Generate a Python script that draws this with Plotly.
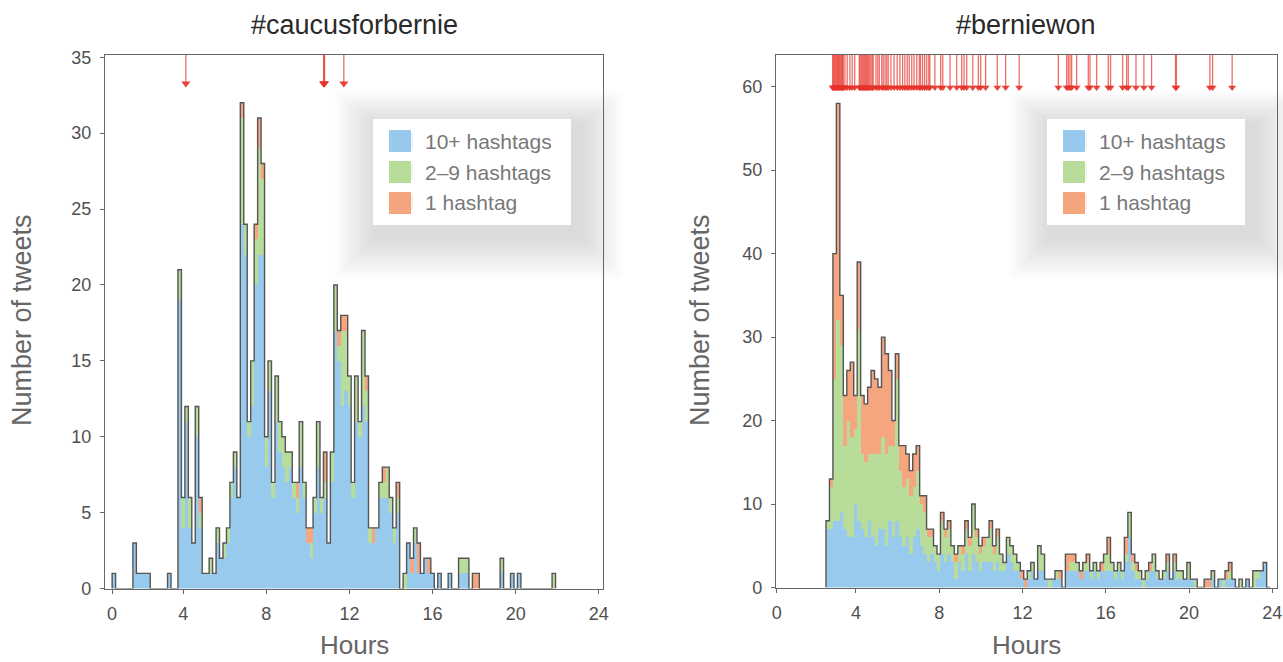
import plotly.graph_objects as go

# ---------------- data ----------------
BIN_W = 1 / 6  # 10-minute bins, in hours
SERIES = ["10+ hashtags", "2–9 hashtags", "1 hashtag"]
COLORS = ["#98CAEE", "#B8DC99", "#F5A67F"]

# #caucusforbernie : counts per 10-min bin, first bin starts at L_START hours
L_START = 3.5 / 6
L_BLUE = [1, 0, 0, 0, 0, 0, 3, 1, 1, 1,
          1, 0, 0, 0, 0, 0, 1, 0, 0, 19,
          4, 11, 4, 3, 10, 4, 1, 1, 1, 1,
          3, 2, 2, 3, 6, 8, 6, 24, 22, 10,
          12, 20, 22, 22, 8, 13, 6, 11, 9, 8,
          7, 8, 6, 5, 8, 6, 3, 2, 5, 8,
          5, 6, 3, 7, 17, 15, 12, 13, 12, 6,
          11, 10, 12, 11, 3, 3, 4, 6, 6, 6,
          5, 3, 5, 0, 0, 3, 1, 3, 1, 1,
          2, 1, 1, 0, 1, 0, 0, 1, 0, 0,
          1, 1, 1, 0, 0, 0, 0, 0, 0, 0,
          0, 0, 1, 0, 0, 1, 0, 1, 0, 0,
          0, 0, 0, 0, 0, 0, 0, 0]
L_GREEN = [0, 0, 0, 0, 0, 0, 0, 0, 0, 0,
           0, 0, 0, 0, 0, 0, 0, 0, 0, 2,
           2, 1, 2, 0, 2, 1, 0, 0, 1, 0,
           1, 0, 1, 1, 1, 1, 0, 7, 2, 1,
           3, 3, 7, 5, 2, 2, 1, 3, 2, 2,
           2, 1, 1, 1, 3, 1, 0, 1, 1, 3,
           1, 1, 0, 2, 3, 1, 5, 4, 2, 1,
           3, 1, 5, 2, 1, 0, 0, 1, 1, 2,
           1, 1, 1, 0, 1, 0, 0, 1, 0, 0,
           0, 0, 0, 0, 0, 0, 0, 0, 0, 0,
           1, 1, 1, 0, 0, 0, 0, 0, 0, 0,
           0, 0, 1, 0, 0, 0, 0, 0, 0, 0,
           0, 0, 0, 0, 0, 0, 0, 1]
L_ORANGE = [0, 0, 0, 0, 0, 0, 0, 0, 0, 0,
            0, 0, 0, 0, 0, 0, 0, 0, 0, 0,
            0, 0, 0, 0, 0, 1, 0, 0, 0, 0,
            0, 0, 0, 0, 0, 0, 0, 1, 0, 0,
            0, 1, 2, 1, 0, 0, 0, 0, 0, 0,
            0, 0, 0, 1, 0, 0, 1, 1, 0, 0,
            0, 2, 0, 0, 0, 1, 1, 1, 0, 0,
            0, 0, 0, 1, 0, 1, 0, 0, 1, 0,
            0, 0, 1, 0, 0, 0, 1, 0, 2, 0,
            0, 1, 0, 0, 0, 0, 0, 0, 0, 0,
            0, 0, 0, 0, 1, 1, 0, 0, 0, 0,
            0, 0, 0, 0, 0, 0, 0, 0, 0, 0,
            0, 0, 0, 0, 0, 0, 0, 0]
L_ARROWS = [4.13, 10.76, 10.78, 10.80, 11.73]

# #berniewon
R_START = 2.56
R_BLUE = [7, 7, 8, 8, 9, 7, 6, 6, 10, 8,
          7, 6, 8, 6, 5, 7, 7, 5, 8, 6,
          8, 6, 5, 6, 4, 6, 7, 5, 4, 3,
          4, 3, 2, 4, 3, 4, 3, 1, 3, 2,
          4, 2, 4, 3, 2, 3, 3, 3, 2, 3,
          2, 2, 4, 3, 2, 2, 1, 0, 1, 2,
          1, 2, 2, 1, 0, 1, 1, 1, 0, 2,
          2, 2, 2, 1, 2, 2, 1, 2, 1, 2,
          2, 2, 2, 1, 2, 1, 3, 6, 2, 1,
          1, 0, 1, 2, 2, 1, 1, 1, 2, 1,
          2, 1, 1, 1, 1, 1, 0, 0, 0, 0,
          0, 1, 0, 1, 0, 1, 1, 1, 0, 0,
          0, 1, 0, 0, 1, 2, 3, 0]
R_GREEN = [1, 5, 17, 24, 20, 10, 14, 12, 9, 23,
           9, 9, 8, 10, 11, 9, 11, 11, 9, 11,
           17, 8, 7, 7, 7, 6, 7, 5, 5, 3,
           2, 2, 2, 4, 3, 3, 2, 2, 2, 2,
           3, 3, 6, 3, 2, 2, 3, 4, 2, 3,
           2, 1, 2, 2, 2, 1, 0, 0, 1, 1,
           0, 3, 2, 0, 1, 0, 1, 0, 0, 0,
           1, 1, 1, 0, 1, 1, 1, 1, 1, 0,
           2, 2, 1, 1, 1, 1, 1, 3, 1, 1,
           1, 1, 1, 0, 2, 1, 0, 1, 1, 0,
           1, 1, 1, 0, 2, 0, 1, 0, 0, 0,
           0, 1, 0, 0, 1, 0, 1, 0, 0, 1,
           0, 0, 0, 2, 1, 0, 0, 0]
R_ORANGE = [0, 1, 15, 26, 6, 6, 6, 9, 4, 8,
            7, 7, 8, 10, 9, 8, 12, 12, 9, 3,
            3, 3, 5, 3, 3, 4, 3, 1, 2, 1,
            1, 0, 0, 1, 1, 1, 0, 1, 0, 1,
            1, 1, 0, 1, 1, 1, 0, 1, 1, 1,
            0, 0, 0, 0, 0, 0, 1, 1, 0, 0,
            0, 0, 0, 0, 0, 0, 0, 1, 0, 2,
            1, 1, 0, 1, 0, 1, 0, 0, 0, 1,
            0, 2, 0, 0, 0, 0, 2, 0, 1, 1,
            0, 0, 0, 1, 0, 0, 0, 0, 1, 0,
            1, 0, 0, 0, 0, 0, 0, 0, 0, 1,
            1, 0, 0, 0, 0, 1, 1, 0, 0, 0,
            0, 0, 0, 0, 0, 0, 0, 0]
R_ARROWS = [2.88, 2.92, 2.96, 3.0, 3.04, 3.08, 3.12, 3.16, 3.2, 3.24, 3.28,
            3.32, 3.36, 3.39, 3.47, 3.58, 3.71, 3.82, 3.94, 4.16, 4.2, 4.25,
            4.3, 4.35, 4.4, 4.45, 4.5, 4.55, 4.6, 4.66, 4.72, 4.78, 4.83,
            4.96, 5.05, 5.12, 5.24, 5.31, 5.4, 5.48, 5.55, 5.68, 5.83, 5.98,
            6.11, 6.24, 6.35, 6.46, 6.56, 6.68, 6.79, 6.92, 7.04, 7.1, 7.2,
            7.3, 7.4, 7.5, 7.55, 7.79, 8.07, 8.17, 8.52, 8.84, 9.08, 9.19,
            9.32, 9.61, 9.88, 9.99, 10.23, 10.79, 11.19, 11.84, 13.72, 14.12,
            14.2, 14.28, 14.36, 14.6, 15.16, 15.24, 15.56, 16.12, 16.23, 16.81,
            17.0, 17.08, 17.45, 17.83, 18.2, 19.35, 19.39, 21.0, 21.13, 22.07]

TITLES = ["#caucusforbernie", "#berniewon"]
X_TICKLABELS = ["0", "4", "8", "12", "16", "20", "24"]
L_YTICKS = [0, 5, 10, 15, 20, 25, 30, 35]
R_YTICKS = [0, 10, 20, 30, 40, 50, 60]

# ---------------- layout geometry (pixels) ----------------
W, H = 1283, 662
FONT = "Liberation Sans, Arial, Helvetica, sans-serif"
panels = [
    dict(start=L_START, data=[L_BLUE, L_GREEN, L_ORANGE], arrows=L_ARROWS,
         px=(105, 603), py=(55, 588.6), xr=[0.24, 24.2], yr=[0, 35.15],
         xtick=[0.58, 4, 8, 12, 16, 20, 24],
         ytick=L_YTICKS, tip=33.27, msize=8, legend=(373, 119, 571, 225),
         ytitle_x=22, xa="x", ya="y", lg="legend"),
    dict(start=R_START, data=[R_BLUE, R_GREEN, R_ORANGE], arrows=R_ARROWS,
         px=(776, 1276.5), py=(55, 587.5), xr=[0.16, 24.2], yr=[0, 63.8],
         xtick=[0.2, 4, 8, 12, 16, 20, 24],
         ytick=R_YTICKS, tip=59.9, msize=7, legend=(1047, 119, 1245, 225),
         ytitle_x=700, xa="x2", ya="y2", lg="legend2"),
]
ROW_Y = [141, 172, 203]   # legend row centres (px)

fig = go.Figure()
shapes, annos = [], []
layout = {}

for pi, p in enumerate(panels):
    n = len(p["data"][0])
    centers = [p["start"] + (i + 0.5) * BIN_W for i in range(n)]
    edges = [p["start"] + i * BIN_W for i in range(n + 1)]
    for si in range(3):
        fig.add_trace(go.Bar(
            x=centers, y=p["data"][si], width=BIN_W, name=SERIES[si],
            marker=dict(color=COLORS[si], line=dict(width=0)),
            xaxis=p["xa"], yaxis=p["ya"], showlegend=False, hoverinfo="skip"))
    totals = [p["data"][0][i] + p["data"][1][i] + p["data"][2][i] for i in range(n)]
    fig.add_trace(go.Scatter(
        x=[edges[0]] + edges[:-1] + [edges[-1]], y=[0] + totals + [0],
        mode="lines", line=dict(color="#555555", width=1.4, shape="hv"),
        xaxis=p["xa"], yaxis=p["ya"], showlegend=False, hoverinfo="skip"))
    # legend entries (swatches are drawn as larger squares below)
    for si in range(3):
        fig.add_trace(go.Scatter(
            x=[None], y=[None], mode="markers", name=SERIES[si],
            marker=dict(symbol="square", size=16, color=COLORS[si], opacity=0),
            xaxis=p["xa"], yaxis=p["ya"], legend=p["lg"], showlegend=True))
    # red arrows
    ax, ay = [], []
    for h in p["arrows"]:
        ax += [h, h, None]
        ay += [p["yr"][1], p["tip"], None]
    fig.add_trace(go.Scatter(
        x=ax, y=ay, mode="lines", line=dict(color="rgba(230,50,40,0.7)", width=1.3),
        xaxis=p["xa"], yaxis=p["ya"], showlegend=False, hoverinfo="skip"))
    fig.add_trace(go.Scatter(
        x=p["arrows"], y=[p["tip"]] * len(p["arrows"]), mode="markers",
        marker=dict(symbol="triangle-down", size=p["msize"], color="rgba(230,50,40,0.9)",
                    line=dict(width=0)),
        xaxis=p["xa"], yaxis=p["ya"], showlegend=False, hoverinfo="skip"))

    x0, x1 = p["px"]
    y0, y1 = p["py"]
    axis_common = dict(showline=True, linecolor="#666666", linewidth=1.2, mirror=True,
                       showgrid=False, zeroline=False, ticks="outside", ticklen=4,
                       tickcolor="#666666",
                       tickfont=dict(family=FONT, size=18, color="#505050"))
    sfx = "" if pi == 0 else "2"
    layout["xaxis" + sfx] = dict(axis_common, domain=[x0 / W, x1 / W], range=p["xr"],
                                 tickvals=p["xtick"], ticktext=X_TICKLABELS,
                                 ticklabelstandoff=5, anchor="y" + sfx)
    layout["yaxis" + sfx] = dict(axis_common, domain=[1 - y1 / H, 1 - y0 / H], range=p["yr"],
                                 tickvals=p["ytick"], ticklabelstandoff=5, anchor="x" + sfx)
    # legend (transparent; white box + swatches drawn as shapes)
    lx0, ly0, lx1, ly1 = p["legend"]
    layout[p["lg"]] = dict(x=lx0 / W, y=1 - (ROW_Y[0] - 32) / H, xanchor="left",
                           yanchor="top", bgcolor="rgba(0,0,0,0)",
                           bordercolor="rgba(0,0,0,0)", borderwidth=12,
                           font=dict(family=FONT, size=21, color="#787878"),
                           traceorder="normal", itemsizing="trace")
    # soft legend shadow
    for s in range(1, 13):
        g = 3.5 * s
        shapes.append(dict(type="rect", xref="paper", yref="paper", layer="below",
                           x0=(lx0 + 4 - g) / W, x1=(lx1 + 10 + g) / W,
                           y0=1 - (ly1 + 12 + g) / H, y1=1 - (ly0 + 6 - g * 0.8) / H,
                           line=dict(width=0), fillcolor="rgba(0,0,0,0.013)"))
    shapes.append(dict(type="rect", xref="paper", yref="paper", layer="above",
                       x0=lx0 / W, x1=lx1 / W, y0=1 - ly1 / H, y1=1 - ly0 / H,
                       line=dict(width=0), fillcolor="white"))
    for si in range(3):
        cxs, cys = lx0 + 27, ROW_Y[si]
        shapes.append(dict(type="rect", xref="paper", yref="paper", layer="above",
                           x0=(cxs - 11) / W, x1=(cxs + 11) / W,
                           y0=1 - (cys + 11) / H, y1=1 - (cys - 11) / H,
                           line=dict(width=0), fillcolor=COLORS[si]))
    cx = (x0 + x1) / 2
    annos.append(dict(text=TITLES[pi], x=cx / W, y=1 - 25 / H, xref="paper", yref="paper",
                      xanchor="center", yanchor="middle", showarrow=False,
                      font=dict(family=FONT, size=27, color="#2a2a2a")))
    annos.append(dict(text="Hours", x=cx / W, y=0, xref="paper", yref="paper",
                      xanchor="center", yanchor="bottom", showarrow=False,
                      font=dict(family=FONT, size=26, color="#666666")))
    annos.append(dict(text="Number of tweets", x=p["ytitle_x"] / W, y=1 - 320 / H,
                      xref="paper", yref="paper", textangle=-90, showarrow=False,
                      xanchor="center", yanchor="middle",
                      font=dict(family=FONT, size=27, color="#666666")))

fig.update_layout(width=W, height=H,
                  margin=dict(l=0, r=0, t=0, b=0, pad=0, autoexpand=False),
                  paper_bgcolor="white", plot_bgcolor="white",
                  barmode="stack", bargap=0, shapes=shapes, annotations=annos,
                  **layout)
fig.write_html("out.html")
